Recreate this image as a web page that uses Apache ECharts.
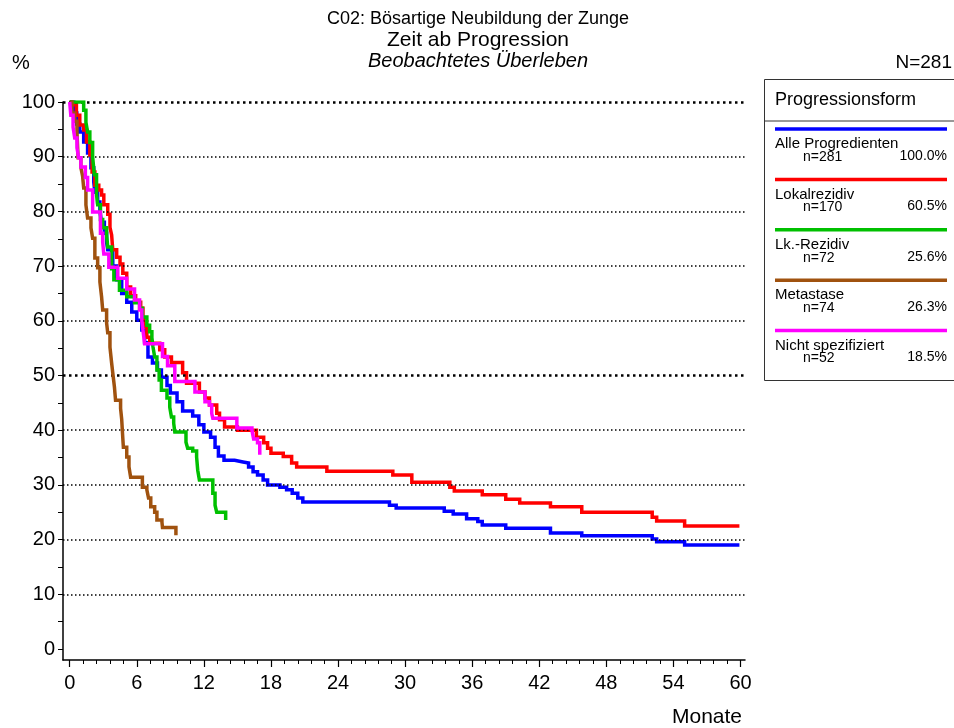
<!DOCTYPE html>
<html>
<head>
<meta charset="utf-8">
<script src="https://cdn.jsdelivr.net/npm/echarts@6/dist/echarts.min.js"></script>
<style>
html,body{margin:0;padding:0;background:#fff;}
#chart{width:954px;height:728px;}
</style>
</head>
<body>
<div id="chart"></div>
<script>
// ---- data ----
const xLabelValues = [0, 6, 12, 18, 24, 30, 36, 42, 48, 54, 60];
const yLabelValues = [0, 10, 20, 30, 40, 50, 60, 70, 80, 90, 100];
const gridValues = [10, 20, 30, 40, 50, 60, 70, 80, 90, 100];
const boldGridValues = [50, 100];

const seriesNames = ["Alle Progredienten", "Lokalrezidiv", "Lk.-Rezidiv", "Metastase", "Nicht spezifiziert"];
const seriesN = ["n=281", "n=170", "n=72", "n=74", "n=52"];
const seriesPct = ["100.0%", "60.5%", "25.6%", "26.3%", "18.5%"];
const seriesColors = ["#0000ff", "#ff0000", "#00c000", "#a0520f", "#ff00ff"];

const blueT = [0,0.36,0.63,0.9,1.25,1.6,1.9,2.15,2.25,2.5,2.7,2.85,3.1,3.3,3.4,3.85,4.2,4.65,5.1,5.55,6.0,6.45,6.7,7.0,7.4,7.85,8.2,8.7,9.0,9.6,10.1,11.0,11.55,12.0,12.6,13.0,13.3,13.8,14.75,15.5,16.0,16.4,16.8,17.3,17.7,18.8,19.4,19.9,20.4,20.85,28.6,29.2,33.5,34.3,35.5,36.5,36.9,39.0,43.0,45.8,52.1,52.5,55.0,59.9];
const blueS = [100,98,96,94.5,92.7,90.7,88,85.4,83.5,81.7,80,78,76,74.4,73,70,67.5,65,63.4,61.6,60.1,58.3,56,53.4,52.3,51,49.7,48.2,46.8,45.2,43.5,42.6,41,39.7,38.7,36.9,35.3,34.5,34.2,34,33.3,32.4,31.8,30.9,30,29.6,29.1,28.5,27.6,26.9,26.3,25.8,25.2,24.7,23.8,23.3,22.7,22.1,21.2,20.7,20.1,19.6,19.0,19.0];

const redT = [0,0.2,0.6,0.9,1.25,1.5,1.8,2.0,2.25,2.6,2.85,3.05,3.4,3.6,3.75,3.85,4.2,4.5,4.75,5.1,5.45,5.9,6.35,6.55,6.7,6.9,7.15,8.05,8.5,9.1,10.1,10.45,11.6,12.1,12.5,13.15,13.4,13.85,15.0,16.7,17.35,17.7,18.0,19.1,19.85,20.3,23.0,28.9,30.6,34.0,34.4,36.9,39.0,40.25,43.0,45.8,52.1,52.5,55.0,59.9];
const redS = [100,99.5,97.6,95.8,94.9,92.7,90.3,87.2,84.8,83.9,83,81.2,79.5,77.1,75.7,73,71.6,70.4,68.7,66.2,64.6,63.4,62.3,60.7,58.9,57,55.9,54.7,53.4,52.4,50.5,48.6,47,45.9,44.6,43.1,41.9,40.6,40,38.7,37.7,36.7,35.8,35.2,34,33.3,32.5,31.8,30.5,29.6,28.9,28.2,27.4,26.7,26.0,25.0,24.1,23.4,22.5,22.5];

const greenT = [0,1.25,1.45,1.6,1.8,2.05,2.2,2.4,2.5,2.75,2.95,3.3,3.4,3.75,3.95,4.45,5.1,5.8,6.25,6.5,6.9,7.15,7.35,7.45,7.6,7.8,8.0,8.2,8.7,8.95,9.1,9.3,9.4,10.4,10.55,11.0,11.35,11.45,11.6,12.8,13.0,13.15,13.95];
const greenS = [100,98.5,96.3,94.5,92.6,90,86.7,83,81.2,78.5,77,75.7,73.5,69.5,67.5,65.6,64.4,63.3,62.3,60.7,59.2,58,56.9,55.2,53.4,51,49.2,47.3,45.9,44.2,42.4,41.3,39.7,37.8,36.7,36.2,35.1,32.7,30.9,28.5,26.3,25,23.6];

const brownT = [0,0.2,0.45,0.65,0.75,1.0,1.15,1.25,1.45,1.6,1.9,2.05,2.25,2.5,2.7,2.85,2.95,3.3,3.4,3.6,3.75,3.85,4.0,4.1,4.55,4.65,4.75,4.8,5.1,5.3,5.45,6.5,6.9,7.05,7.25,7.6,7.8,8.25,8.3,9.5];
const brownS = [100,98,96.5,94.5,89.8,88,86.5,84.3,81.2,78.8,77,75.1,71.5,69.7,67.1,64.4,62,59.6,57.8,55.2,52.3,50.5,47.9,45.5,44,42,38.5,36.9,35.1,33.3,31.4,29.6,29.1,27.6,26,25,23.6,23.2,22.2,20.8];

const magT = [0,0.1,0.3,0.45,0.65,0.8,1.0,1.4,1.6,2.05,2.75,2.95,3.05,3.5,4.3,5.1,5.8,6.25,6.45,6.55,6.7,8.3,8.75,9.4,11.2,12.1,12.5,12.7,12.8,14.95,16.3,16.45,16.8,17.0];
const magS = [100,97.6,95.4,93.4,91.6,89.8,88.1,86.2,83.9,79.9,76,74.4,72.2,69.8,67.8,65.8,63.8,62,60.1,58.3,55.8,53.5,51.8,48.9,47,45.2,44.6,43.1,42.2,40.4,40,38.4,37.7,35.5];

const titleLines = ["C02: Bösartige Neubildung der Zunge", "Zeit ab Progression", "Beobachtetes Überleben"];
const legendTitle = "Progressionsform";
const totalN = "N=281";
const yUnit = "%";
const xUnit = "Monate";

// ---- build ----
const FONT = "'Liberation Sans', Arial, Helvetica, sans-serif";
const allT = [blueT, redT, greenT, brownT, magT];
const allS = [blueS, redS, greenS, brownS, magS];

function range(a, b, step) { const r = []; for (let v = a; v <= b + 1e-9; v += step) r.push(Math.round(v * 100) / 100); return r; }
const xMinorTicks = range(0, 60, 1.2);
const yMinorTicks = range(0, 100, 5);

const series = allT.map((T, i) => ({
  type: 'line',
  name: seriesNames[i],
  step: 'end',
  symbol: 'none',
  data: T.map((t, j) => [t, allS[i][j]]),
  lineStyle: { color: seriesColors[i], width: 3.5, cap: 'butt', join: 'miter' },
  z: 3 + i
}));

// dotted grid lines
series.push({
  type: 'line', data: [], symbol: 'none', silent: true,
  markLine: {
    silent: true, symbol: 'none', animation: false,
    label: { show: false },
    data: gridValues.map(v => {
      const bold = boldGridValues.includes(v);
      return { yAxis: v, lineStyle: { color: '#000', type: bold ? [2.5, 3.5] : [1.5, 2.5], width: bold ? 2.5 : 1.5 } };
    })
  },
  z: 1
});

const graphics = [];
// titles
const titleSizes = [18, 21, 20];
const titleY = [19, 40, 61];
titleLines.forEach((t, i) => {
  graphics.push({ type: 'text', x: 478, y: titleY[i], style: { text: t, font: (i === 2 ? 'italic ' : '') + titleSizes[i] + 'px ' + FONT, fill: '#000', textAlign: 'center', textVerticalAlign: 'middle' } });
});
graphics.push({ type: 'text', x: 12, y: 63, style: { text: yUnit, font: '20px ' + FONT, fill: '#000', textAlign: 'left', textVerticalAlign: 'middle' } });
graphics.push({ type: 'text', x: 952, y: 63, style: { text: totalN, font: '19px ' + FONT, fill: '#000', textAlign: 'right', textVerticalAlign: 'middle' } });
graphics.push({ type: 'text', x: 742, y: 717, style: { text: xUnit, font: '21px ' + FONT, fill: '#000', textAlign: 'right', textVerticalAlign: 'middle' } });

// legend box
graphics.push({ type: 'rect', shape: { x: 764.5, y: 79.5, width: 220, height: 301 }, style: { fill: '#fff', stroke: '#333', lineWidth: 1 }, z: 10 });
graphics.push({ type: 'line', shape: { x1: 764, y1: 121, x2: 954, y2: 121 }, style: { stroke: '#333', lineWidth: 1 }, z: 11 });
graphics.push({ type: 'text', x: 775, y: 100, style: { text: legendTitle, font: '18px ' + FONT, fill: '#000', textAlign: 'left', textVerticalAlign: 'middle' }, z: 11 });
seriesNames.forEach((name, i) => {
  const ly = 129 + 50.4 * i;
  graphics.push({ type: 'line', shape: { x1: 775, y1: ly, x2: 947, y2: ly }, style: { stroke: seriesColors[i], lineWidth: 3.5 }, z: 11 });
  graphics.push({ type: 'text', x: 775, y: ly + 15, style: { text: name, font: '15px ' + FONT, fill: '#000', textAlign: 'left', textVerticalAlign: 'middle' }, z: 11 });
  graphics.push({ type: 'text', x: 803, y: ly + 28, style: { text: seriesN[i], font: '14px ' + FONT, fill: '#000', textAlign: 'left', textVerticalAlign: 'middle' }, z: 11 });
  graphics.push({ type: 'text', x: 947, y: ly + 27, style: { text: seriesPct[i], font: '14px ' + FONT, fill: '#000', textAlign: 'right', textVerticalAlign: 'middle' }, z: 11 });
});

const chart = echarts.init(document.getElementById('chart'), null, { renderer: 'canvas' });
chart.setOption({
  animation: false,
  backgroundColor: '#fff',
  grid: { left: 63, top: 102, width: 682, height: 558, containLabel: false },
  xAxis: [
    {
      type: 'value', min: -0.6, max: 60.4, position: 'bottom',
      axisLine: { show: true, onZero: false, lineStyle: { color: '#000', width: 1.5 } },
      axisTick: { show: true, customValues: xMinorTicks, length: 4, lineStyle: { color: '#000', width: 1 } },
      axisLabel: { show: true, customValues: xLabelValues, fontSize: 20, fontFamily: FONT, color: '#000', margin: 13 },
      splitLine: { show: false }
    },
    {
      type: 'value', min: -0.6, max: 60.4, position: 'bottom', offset: 0,
      axisLine: { show: false, onZero: false },
      axisTick: { show: true, customValues: xLabelValues, length: 7, lineStyle: { color: '#000', width: 1.2 } },
      axisLabel: { show: false },
      splitLine: { show: false }
    }
  ],
  yAxis: {
    type: 'value', min: -2, max: 100,
    axisLine: { show: true, onZero: false, lineStyle: { color: '#000', width: 1.5 } },
    axisTick: { show: true, customValues: yMinorTicks, length: 5, lineStyle: { color: '#000', width: 1 } },
    axisLabel: { show: true, customValues: yLabelValues, fontSize: 20, fontFamily: FONT, color: '#000', margin: 8 },
    splitLine: { show: false }
  },
  series: series,
  graphic: graphics
});
</script>
</body>
</html>
